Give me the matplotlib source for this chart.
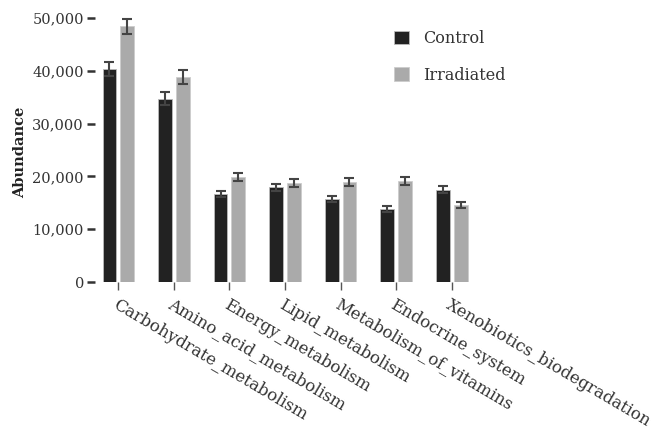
import numpy as np
import matplotlib
matplotlib.use('Agg')
import matplotlib.pyplot as plt
from matplotlib.patches import Patch

categories = ['Carbohydrate_metabolism', 'Amino_acid_metabolism', 'Energy_metabolism',
              'Lipid_metabolism', 'Metabolism_of_vitamins', 'Endocrine_system',
              'Xenobiotics_biodegradation']
control = [40300, 34700, 16700, 17900, 15700, 13800, 17500]
control_err = [1300, 1200, 600, 600, 600, 500, 650]
irradiated = [48400, 38800, 19900, 18750, 18900, 19100, 14600]
irradiated_err = [1500, 1300, 800, 700, 800, 800, 600]
yticks = [0, 10000, 20000, 30000, 40000, 50000]

plt.rcParams['font.family'] = ['DejaVu Serif']

fig = plt.figure(figsize=(6.62, 4.3), dpi=100)
ax = fig.add_axes([95 / 662, 1 - 282 / 430, (470 - 95) / 662, (282 - 12.7) / 430])

x = np.arange(len(categories))
w = 0.25
off = 0.16
ax.bar(x - off, control, w, color='#222222', edgecolor='#bbbbbb', linewidth=0.6)
ax.bar(x + off, irradiated, w, color='#aaaaaa', edgecolor='#cccccc', linewidth=0.6)
ax.errorbar(x - off, control, yerr=control_err, fmt='none', ecolor='#444444',
            elinewidth=1.5, capsize=3.5, capthick=1.5)
ax.errorbar(x + off, irradiated, yerr=irradiated_err, fmt='none', ecolor='#444444',
            elinewidth=1.5, capsize=3.5, capthick=1.5)

ax.set_xlim(-0.42, 6.33)
ax.set_ylim(0, 51000)
ax.set_yticks(yticks)
ax.set_yticklabels([f'{v:,}' for v in yticks], fontsize=10.5, color='#333333')
ax.set_xticks(x)
ax.set_xticklabels(categories, rotation=-30.5, ha='left', va='top',
                   rotation_mode='anchor', fontsize=12, color='#333333')
ax.tick_params(axis='y', length=6, width=1.8, color='#333333', pad=2)
ax.tick_params(axis='x', length=6, width=1, color='#555555', pad=4)
for s in ax.spines.values():
    s.set_visible(False)

ax.set_ylabel('Abundance', fontsize=10.5, fontweight='bold', color='#222222')
ax.yaxis.set_label_coords(-0.18, 0.48)

handles = [Patch(facecolor='#222222', edgecolor='#bbbbbb', linewidth=0.6, label='Control'),
           Patch(facecolor='#aaaaaa', edgecolor='#cccccc', linewidth=0.6, label='Irradiated')]
fig.legend(handles=handles, loc='upper left', bbox_to_anchor=(380 / 662, 1 - 16 / 430),
           frameon=False, fontsize=11.5, handlelength=0.9, handleheight=0.9,
           labelspacing=1.2, handletextpad=0.9, labelcolor='#333333')

fig.savefig('out.png', dpi=100)
